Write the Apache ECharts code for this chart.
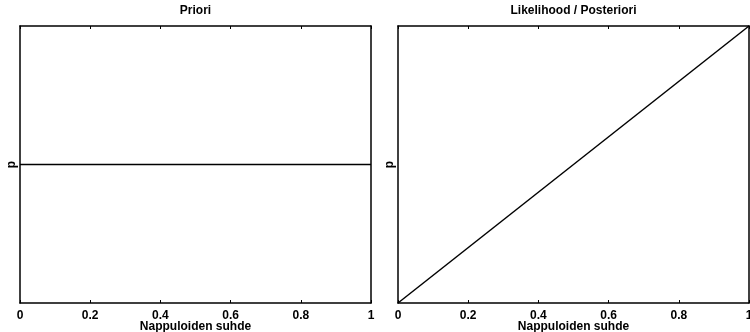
<!DOCTYPE html>
<html>
<head>
<meta charset="utf-8">
<script src="https://cdn.jsdelivr.net/npm/echarts@6/dist/echarts.min.js"></script>
<style>
  html, body { margin: 0; padding: 0; background: #fff; }
  #chart { width: 750px; height: 332px; }
</style>
</head>
<body>
<div id="chart"></div>
<script>
// data
const xTicks = [0, 0.2, 0.4, 0.6, 0.8, 1];
const prioriX = [0, 1];
const prioriY = [1, 1];
const posteriorX = [0, 1];
const posteriorY = [0, 2];
const titles = ['Priori', 'Likelihood / Posteriori'];
const xName = 'Nappuloiden suhde';
const yName = 'p';

const font = 'Liberation Sans, Arial, sans-serif';
const grids = [
  { left: 20, right: 379, top: 26, bottom: 29, outerBoundsMode: 'none' },
  { left: 398, right: 1, top: 26, bottom: 29, outerBoundsMode: 'none' }
];

function pairs(xs, ys) {
  return xs.map((x, i) => [x, ys[i]]);
}

const xAxes = [];
const yAxes = [];
grids.forEach((g, i) => {
  // bottom axis with labels
  xAxes.push({
    gridIndex: i, type: 'value', min: 0, max: 1, interval: 0.2,
    position: 'bottom',
    name: xName, nameLocation: 'middle', nameGap: 18, nameMoveOverlap: false,
    nameTextStyle: { color: '#000', fontWeight: 'bold', fontSize: 12, fontFamily: font,
      verticalAlign: 'top', lineHeight: 12 },
    axisLine: { show: true, onZero: false, lineStyle: { color: '#000', width: 1.5 } },
    axisTick: { inside: true, length: 3, lineStyle: { color: '#000' } },
    axisLabel: {
      color: '#000', fontWeight: 'bold', fontSize: 12, fontFamily: font, margin: 7,
      formatter: v => xTicks.includes(+v.toFixed(1)) ? String(+v.toFixed(1)) : ''
    },
    splitLine: { show: false }
  });
  // top mirror axis
  xAxes.push({
    gridIndex: i, type: 'value', min: 0, max: 1, interval: 0.2,
    position: 'top',
    axisLine: { show: true, onZero: false, lineStyle: { color: '#000', width: 1.5 } },
    axisTick: { inside: true, length: 3, lineStyle: { color: '#000' } },
    axisLabel: { show: false },
    splitLine: { show: false }
  });
  yAxes.push({
    gridIndex: i, type: 'value', min: 0, max: 2,
    position: 'left',
    name: yName, nameLocation: 'middle', nameGap: 2, nameRotate: 90, nameMoveOverlap: false,
    nameTextStyle: { color: '#000', fontWeight: 'bold', fontSize: 12, fontFamily: font },
    axisLine: { show: true, onZero: false, lineStyle: { color: '#000', width: 1.5 } },
    axisTick: { show: false },
    axisLabel: { show: false },
    splitLine: { show: false }
  });
  yAxes.push({
    gridIndex: i, type: 'value', min: 0, max: 2,
    position: 'right',
    axisLine: { show: true, onZero: false, lineStyle: { color: '#000', width: 1.5 } },
    axisTick: { show: false },
    axisLabel: { show: false },
    splitLine: { show: false }
  });
});

const option = {
  animation: false,
  backgroundColor: '#fff',
  title: titles.map((t, i) => ({
    text: t,
    left: grids[i].left + (750 - grids[i].left - grids[i].right) / 2,
    textAlign: 'center',
    top: 5,
    padding: 0,
    textStyle: { color: '#000', fontWeight: 'bold', fontSize: 12, fontFamily: font }
  })),
  grid: grids,
  xAxis: xAxes,
  yAxis: yAxes,
  series: [
    {
      type: 'line', xAxisIndex: 0, yAxisIndex: 0,
      data: pairs(prioriX, prioriY), showSymbol: false,
      lineStyle: { color: '#000', width: 1.5 }
    },
    {
      type: 'line', xAxisIndex: 2, yAxisIndex: 2,
      data: pairs(posteriorX, posteriorY), showSymbol: false,
      lineStyle: { color: '#000', width: 1.5 }
    }
  ]
};

const chart = echarts.init(document.getElementById('chart'), null, { renderer: 'canvas' });
chart.setOption(option);
</script>
</body>
</html>
